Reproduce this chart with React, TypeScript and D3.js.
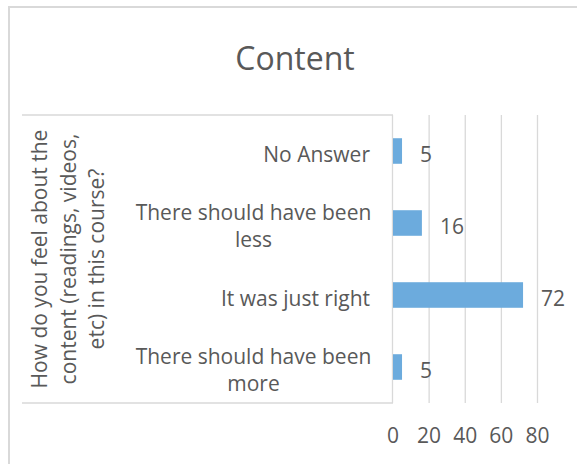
import React from "react";
import * as d3 from "d3";

const categories = [
  "No Answer",
  "There should have been less",
  "It was just right",
  "There should have been more",
];
const categoryLines = [
  ["No Answer"],
  ["There should have been", "less"],
  ["It was just right"],
  ["There should have been", "more"],
];
const values = [5, 16, 72, 5];
const ticks = [0, 20, 40, 60, 80];
const title = "Content";
const axisTitleLines = [
  "How do you feel about the",
  "content (readings, videos,",
  "etc) in this course?",
];

const W = 577;
const H = 464;
const FONT = "'Open Sans', sans-serif";
const TEXT = "#595959";
const GRID = "#d9d9d9";
const BAR = "#6cabdd";

export default function App() {
  const plotTop = 115;
  const plotBottom = 403;
  const x = d3.scaleLinear().domain([0, 80]).range([393, 537.5]);
  const y = d3
    .scaleBand<string>()
    .domain(categories)
    .range([plotTop, plotBottom])
    .paddingInner(0.645)
    .paddingOuter(0.3225);
  const fs = 21;
  const labelRight = 370;
  const titleCenterY = (plotTop + plotBottom) / 2;

  return (
    <svg
      width={W}
      height={H}
      style={{ position: "absolute", left: 0, top: 0, background: "#fff" }}
      fontFamily={FONT}
    >
      {/* chart frame */}
      <path d={`M9,${H + 5}V7H${W + 5}`} fill="none" stroke={GRID} strokeWidth={2} />

      <text x={295} y={70} textAnchor="middle" fontSize={32} fill={TEXT}>
        {title}
      </text>

      {/* vertical gridlines */}
      {ticks.slice(1).map((t) => (
        <line key={t} x1={x(t)} x2={x(t)} y1={plotTop} y2={plotBottom} stroke={GRID} strokeWidth={1.3} />
      ))}

      {/* multi-level category axis rules */}
      {[plotTop, plotBottom].map((yy) => (
        <line key={yy} x1={22} x2={x(0)} y1={yy} y2={yy} stroke={GRID} strokeWidth={1.3} />
      ))}
      <line x1={x(0) - 0.5} x2={x(0) - 0.5} y1={plotTop} y2={plotBottom} stroke={GRID} strokeWidth={1.3} />

      {/* bars */}
      {categories.map((c, i) => (
        <rect
          key={c}
          x={x(0)}
          y={y(c)!}
          width={x(values[i]) - x(0)}
          height={y.bandwidth()}
          fill={BAR}
        />
      ))}

      {/* value labels */}
      {categories.map((c, i) => (
        <text
          key={c}
          x={x(values[i]) + 18}
          y={y(c)! + y.bandwidth() / 2 + 10.5}
          fontSize={fs}
          fill={TEXT}
        >
          {values[i]}
        </text>
      ))}

      {/* category labels */}
      {categories.map((c, i) => {
        const cy = y(c)! + y.bandwidth() / 2;
        const lines = categoryLines[i];
        const lh = 26.4;
        const first = cy + 10.5 - ((lines.length - 1) * lh) / 2;
        return (
          <text key={c} textAnchor={lines.length > 1 ? "middle" : "end"} fontSize={fs} fill={TEXT}>
            {lines.map((l, j) => (
              <tspan
                key={j}
                x={lines.length > 1 ? labelRight - 116.5 : labelRight}
                y={first + j * lh}
              >
                {l}
              </tspan>
            ))}
          </text>
        );
      })}

      {/* axis title */}
      <g transform={`translate(0, ${titleCenterY}) rotate(-90)`}>
        {axisTitleLines.map((l, j) => (
          <text key={j} x={0} y={47 + j * 28.5} textAnchor="middle" fontSize={21} fill={TEXT}>
            {l}
          </text>
        ))}
      </g>

      {/* x tick labels */}
      {ticks.map((t) => (
        <text key={t} x={x(t)} y={443} textAnchor="middle" fontSize={fs} fill={TEXT}>
          {t}
        </text>
      ))}
    </svg>
  );
}
